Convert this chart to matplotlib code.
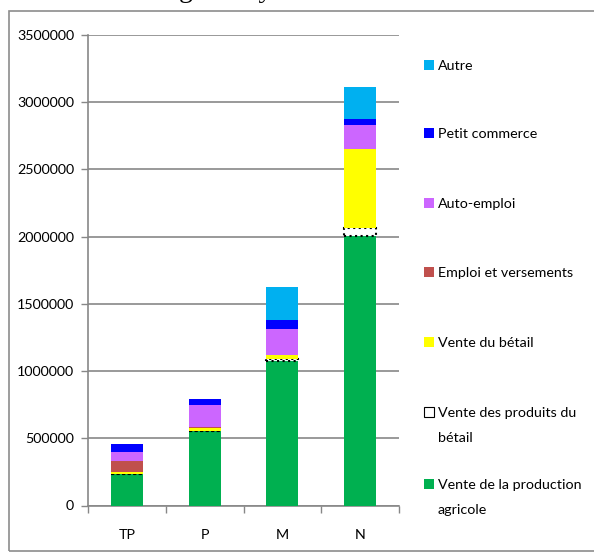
import matplotlib.pyplot as plt
import numpy as np
from matplotlib.patches import Rectangle

plt.rcParams['font.family'] = ['Lato', 'DejaVu Sans']

# categories and series (bottom to top of the stack)
categories = ['TP', 'P', 'M', 'N']
agricole = [231000, 551000, 1072000, 2005000]
produits_betail = [0, 5000, 15000, 60000]
betail = [15000, 22000, 30000, 584000]
emploi = [86000, 8000, 0, 0]
auto_emploi = [67000, 165000, 198000, 178000]
commerce = [55000, 42000, 62000, 49000]
autre = [0, 0, 247000, 240000]

series = [
    ('Vente de la production\nagricole', agricole, '#00B050'),
    ('Vente des produits du\nbétail', produits_betail, 'white'),
    ('Vente du bétail', betail, '#FFFF00'),
    ('Emploi et versements', emploi, '#C0504D'),
    ('Auto-emploi', auto_emploi, '#CC66FF'),
    ('Petit commerce', commerce, '#0000FF'),
    ('Autre', autre, '#00B0F0'),
]

fig = plt.figure(figsize=(5.94, 5.58), dpi=100)
W, H = 594, 558
ax = fig.add_axes([88 / W, 1 - 505.5 / H, 311 / W, 470.5 / H])

x = np.arange(len(categories))
bottom = np.zeros(len(categories))
for name, vals, col in series:
    vals = np.array(vals, dtype=float)
    if col == 'white':
        ax.bar(x, vals, 0.41, bottom=bottom, color='white', edgecolor='black',
               linestyle=':', linewidth=1.5, zorder=3)
    else:
        ax.bar(x, vals, 0.41, bottom=bottom, color=col, linewidth=0, zorder=3)
    bottom += vals

ax.set_xlim(-0.5, 3.5)
ax.set_ylim(0, 3500000)
ax.set_yticks(np.arange(0, 3500001, 500000))
ax.set_yticklabels([str(v) for v in range(0, 3500001, 500000)])
ax.set_xticks(x)
ax.set_xticklabels(categories)
ax.set_xticks([-0.5, 0.5, 1.5, 2.5, 3.5], minor=True)
ax.tick_params(axis='x', which='major', length=0, pad=17, labelsize=10.3)
ax.tick_params(axis='x', which='minor', length=5, color='#878787', width=1)
ax.tick_params(axis='y', length=5, color='#878787', width=1, labelsize=10.3, pad=5)
ax.yaxis.grid(True, color='#878787', linewidth=1.2, zorder=0)
ax.set_axisbelow(True)
for s in ['top', 'right']:
    ax.spines[s].set_visible(False)
for s in ['left', 'bottom']:
    ax.spines[s].set_color('#878787')
    ax.spines[s].set_linewidth(1.2)

# outer chart border
fig.patches.append(Rectangle((9 / W, 1 - 551 / H), 600 / W, 540 / H,
                             transform=fig.transFigure, facecolor='none',
                             edgecolor='#8C8C8C', linewidth=1.2))

# title, mostly cut off at the top edge
fig.text(40 / W, 1 + 3 / H, 'ou des ménages moyens.', family='Liberation Serif',
         fontsize=20, va='baseline', ha='left')

# legend (top to bottom, reverse stacking order)
leg_y = [65, 133, 203, 272, 342, 412, 484]
for (name, vals, col), yy in zip(series[::-1], leg_y):
    fig.patches.append(Rectangle((424 / W, 1 - (yy + 5) / H), 10 / W, 10 / H,
                                 transform=fig.transFigure, facecolor=col,
                                 edgecolor='black' if col == 'white' else 'none',
                                 linewidth=0.8))
    fig.text(438 / W, 1 - (yy - 5) / H, name, fontsize=10.3, va='top',
             ha='left', linespacing=2.25)

fig.savefig('out.png', dpi=100)
